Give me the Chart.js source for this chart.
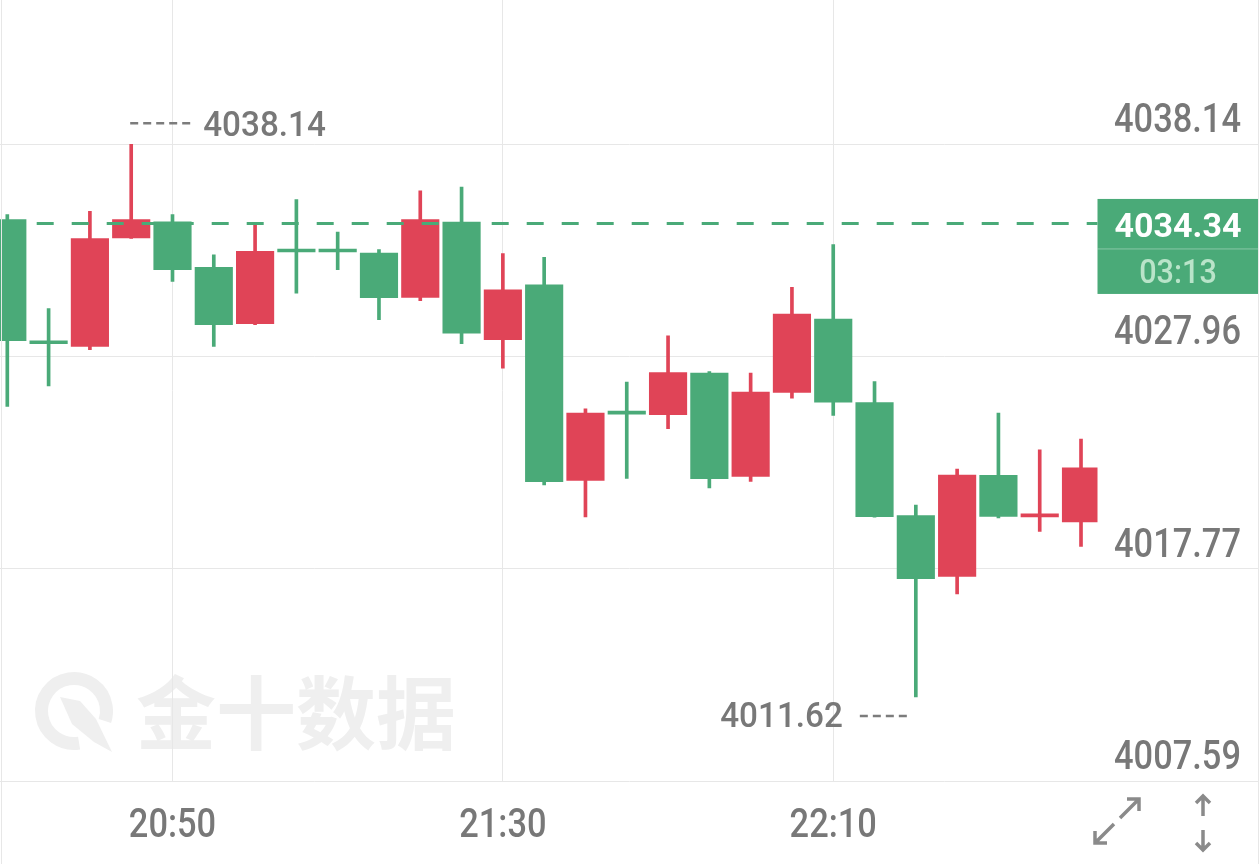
<!DOCTYPE html>
<html>
<head>
<meta charset="utf-8">
<script src="https://cdn.jsdelivr.net/npm/chart.js@4.4.1/dist/chart.umd.min.js"></script>
<style>
html,body{margin:0;padding:0;background:#fff;}
#wrap{width:1260px;height:864px;position:relative;overflow:hidden;}
</style>
</head>
<body>
<div id="wrap"><canvas id="c" width="1260" height="864"></canvas></div>
<script>
// ---- data (5-minute candles) ----
const times  = ['20:30','20:35','20:40','20:45','20:50','20:55','21:00','21:05','21:10','21:15','21:20','21:25','21:30','21:35','21:40','21:45','21:50','21:55','22:00','22:05','22:10','22:15','22:20','22:25','22:30','22:35','22:40'];
const opens  = [4034.52,4028.58,4028.44,4033.64,4034.42,4032.23,4029.53,4032.98,4032.98,4032.92,4030.79,4034.41,4028.76,4031.40,4022.01,4025.20,4025.16,4027.16,4022.20,4026.23,4029.75,4025.75,4020.32,4017.41,4022.25,4020.26,4020.02];
const highs  = [4034.76,4030.25,4034.92,4038.14,4034.76,4032.84,4034.28,4035.48,4033.93,4033.08,4035.91,4036.09,4032.89,4032.71,4025.44,4026.73,4028.95,4027.23,4027.16,4031.27,4033.32,4026.75,4020.83,4022.56,4025.24,4023.48,4024.00];
const lows   = [4025.56,4026.55,4028.28,4033.62,4031.56,4028.44,4029.48,4031.00,4032.12,4029.72,4030.63,4028.57,4027.40,4021.79,4020.26,4022.11,4024.49,4021.65,4021.96,4025.96,4025.13,4020.25,4011.62,4016.56,4020.21,4019.57,4018.85];
const closes = [4028.71,4028.57,4033.61,4034.52,4032.12,4029.48,4033.00,4032.97,4032.97,4030.78,4034.52,4029.08,4031.16,4021.95,4025.24,4025.19,4027.19,4022.09,4026.25,4029.99,4025.77,4020.27,4017.30,4022.27,4020.28,4020.27,4022.62];
const yTickValues = [4007.59, 4017.77, 4027.96, 4038.14];
const xTickLabels = ['20:50', '21:30', '22:10'];
const lastPrice = 4034.34;
const countdown = '03:13';
const watermark = '金十数据';

// ---- style ----
const RED = '#e04457', GREEN = '#4aaa78', GRID = '#e7e7e7', TEXT = '#787878';
const FONT = 'Roboto, "Noto Sans", "DejaVu Sans", sans-serif';

const colors = closes.map((c, i) => c >= opens[i] ? RED : GREEN);
const bodyData = times.map((t, i) => ({x: i, y: [opens[i], closes[i]]}));
const wickData = times.map((t, i) => ({x: i, y: [lows[i], highs[i]]}));
const xTickIdx = xTickLabels.map(l => times.indexOf(l));

const hiIdx = highs.indexOf(Math.max(...highs));
const loIdx = lows.indexOf(Math.min(...lows));

function txt(ctx, s, x, y, o) {
  ctx.save();
  ctx.font = `${o.weight || 500} ${o.size}px ${o.family || FONT}`;
  ctx.fillStyle = o.color;
  ctx.textBaseline = 'alphabetic';
  ctx.textAlign = 'left';
  const sx = o.sx || 1;
  const w = ctx.measureText(s).width * sx;
  const left = o.align === 'right' ? x - w : o.align === 'center' ? x - w / 2 : x;
  ctx.translate(left, y);
  ctx.scale(sx, 1);
  ctx.fillText(s, 0, 0);
  ctx.restore();
}

function dashRun(ctx, x1, x2, y) {
  ctx.save();
  ctx.strokeStyle = '#7c7c7c';
  ctx.lineWidth = 2.5;
  ctx.setLineDash([8, 5]);
  ctx.beginPath(); ctx.moveTo(x1, y); ctx.lineTo(x2, y); ctx.stroke();
  ctx.restore();
}

const decor = {
  id: 'decor',
  beforeDraw(chart) {
    const {ctx, chartArea: a} = chart;
    ctx.save();
    ctx.fillStyle = '#fff';
    ctx.fillRect(0, 0, chart.width, chart.height);
    // watermark logo + text
    const cx = a.left + 74, cy = a.bottom - 70;
    ctx.strokeStyle = '#efefef';
    ctx.fillStyle = '#efefef';
    ctx.lineWidth = 13;
    ctx.beginPath();
    ctx.arc(cx, cy, 32.5, 0.45 * Math.PI, 2.1 * Math.PI);
    ctx.stroke();
    ctx.beginPath();
    ctx.moveTo(cx - 14, cy - 14);
    ctx.lineTo(cx + 6, cy - 10);
    ctx.lineTo(cx + 22, cy + 8);
    ctx.lineTo(cx + 38, cy + 41);
    ctx.lineTo(cx + 20, cy + 31);
    ctx.lineTo(cx - 2, cy + 13);
    ctx.closePath();
    ctx.fill();
    ctx.font = 'bold 80px "Noto Sans CJK SC"';
    ctx.textBaseline = 'middle';
    ctx.textAlign = 'left';
    ctx.fillText(watermark, a.left + 136, cy + 2);
    ctx.restore();
  },
  afterDatasetsDraw(chart) {
    const {ctx, chartArea: a, scales: {x, y}} = chart;
    const boxLeft = 1097.5;
    // last price dashed line
    const py = y.getPixelForValue(lastPrice);
    ctx.save();
    ctx.strokeStyle = GREEN;
    ctx.lineWidth = 3;
    ctx.setLineDash([17, 18]);
    ctx.lineDashOffset = -1.7;
    ctx.beginPath(); ctx.moveTo(a.left, py); ctx.lineTo(boxLeft, py); ctx.stroke();
    ctx.restore();

    // price box
    ctx.save();
    ctx.fillStyle = GREEN;
    ctx.fillRect(boxLeft, py - 24.5, a.right - 0.5 - boxLeft, 95);
    ctx.fillStyle = 'rgba(255,255,255,0.35)';
    ctx.fillRect(boxLeft, py + 25, a.right - 0.5 - boxLeft, 1);
    ctx.restore();
    const bc = (boxLeft + a.right - 0.5) / 2;
    txt(ctx, lastPrice.toFixed(2), bc, py + 14, {size: 34, weight: 700, color: '#ffffff', align: 'center', sx: 1.0});
    txt(ctx, countdown, bc, py + 59.6, {size: 32.5, weight: 500, color: '#b9e4c9', align: 'center', sx: 0.94});

    // y tick labels
    yTickValues.forEach(v => {
      const gy = y.getPixelForValue(v);
      txt(ctx, v.toFixed(2), a.right - 18, gy - 12, {size: 40.5, color: TEXT, align: 'right', sx: 0.85});
    });

    // x tick labels
    xTickIdx.forEach((idx, k) => {
      txt(ctx, xTickLabels[k], x.getPixelForValue(idx), a.bottom + 56, {size: 40.5, color: TEXT, align: 'center', sx: 0.85});
    });

    // high / low annotations
    const hx = x.getPixelForValue(hiIdx), hy = y.getPixelForValue(highs[hiIdx]);
    dashRun(ctx, hx - 1, hx + 64, hy - 21);
    txt(ctx, highs[hiIdx].toFixed(2), hx + 72, hy - 8, {size: 35, color: TEXT, align: 'left', sx: 0.95});
    const lx = x.getPixelForValue(loIdx), ly = y.getPixelForValue(lows[loIdx]);
    dashRun(ctx, lx - 56, lx - 8, ly + 19);
    txt(ctx, lows[loIdx].toFixed(2), lx - 73, ly + 30, {size: 35, color: TEXT, align: 'right', sx: 0.95});

    // borders
    ctx.save();
    ctx.strokeStyle = GRID;
    ctx.lineWidth = 1;
    ctx.beginPath();
    ctx.moveTo(a.right - 0.5, 0); ctx.lineTo(a.right - 0.5, chart.height);
    ctx.moveTo(1.5, 0); ctx.lineTo(1.5, chart.height);
    ctx.stroke();
    ctx.restore();

    // bottom-right icons
    ctx.save();
    ctx.strokeStyle = '#8a8a8a';
    ctx.lineWidth = 3.5;
    ctx.lineCap = 'butt';
    const ix = 1117, iy = 821;
    ctx.beginPath();
    ctx.moveTo(ix + 3, iy - 3); ctx.lineTo(ix + 21, iy - 21);
    ctx.moveTo(ix + 10, iy - 22); ctx.lineTo(ix + 22, iy - 22); ctx.lineTo(ix + 22, iy - 10);
    ctx.moveTo(ix - 3, iy + 3); ctx.lineTo(ix - 21, iy + 21);
    ctx.moveTo(ix - 22, iy + 10); ctx.lineTo(ix - 22, iy + 22); ctx.lineTo(ix - 10, iy + 22);
    ctx.stroke();
    const ux = 1203;
    ctx.beginPath();
    ctx.moveTo(ux, 796); ctx.lineTo(ux, 816);
    ctx.moveTo(ux - 7, 803); ctx.lineTo(ux, 796); ctx.lineTo(ux + 7, 803);
    ctx.moveTo(ux, 830); ctx.lineTo(ux, 850);
    ctx.moveTo(ux - 7, 843); ctx.lineTo(ux, 850); ctx.lineTo(ux + 7, 843);
    ctx.stroke();
    ctx.restore();
  }
};

const clipOpt = {left: 0, top: 0, right: -161.5, bottom: 0};

new Chart(document.getElementById('c').getContext('2d'), {
  type: 'bar',
  data: {
    datasets: [
      {label: 'body', data: bodyData, backgroundColor: colors, barThickness: 37.5, minBarLength: 3, grouped: false, order: 0, clip: clipOpt, borderWidth: 0},
      {label: 'wick', data: wickData, backgroundColor: colors, barThickness: 3, grouped: false, order: 1, clip: clipOpt, borderWidth: 0}
    ]
  },
  options: {
    responsive: false,
    animation: false,
    devicePixelRatio: 1,
    layout: {padding: {left: 0, right: 1, top: 0, bottom: 83}},
    plugins: {legend: {display: false}, tooltip: {enabled: false}},
    scales: {
      x: {
        type: 'linear', min: -0.177, max: 30.31, offset: false,
        grid: {color: GRID, lineWidth: 1, drawTicks: false, offset: false},
        border: {display: false},
        ticks: {display: false},
        afterBuildTicks: s => { s.ticks = xTickIdx.map(v => ({value: v})); }
      },
      y: {
        type: 'linear', position: 'right', min: 4007.59, max: 4045.06,
        grid: {color: GRID, lineWidth: 1, drawTicks: false},
        border: {display: false},
        ticks: {display: false},
        afterBuildTicks: s => { s.ticks = yTickValues.map(v => ({value: v})); }
      }
    }
  },
  plugins: [decor]
});
</script>
</body>
</html>
